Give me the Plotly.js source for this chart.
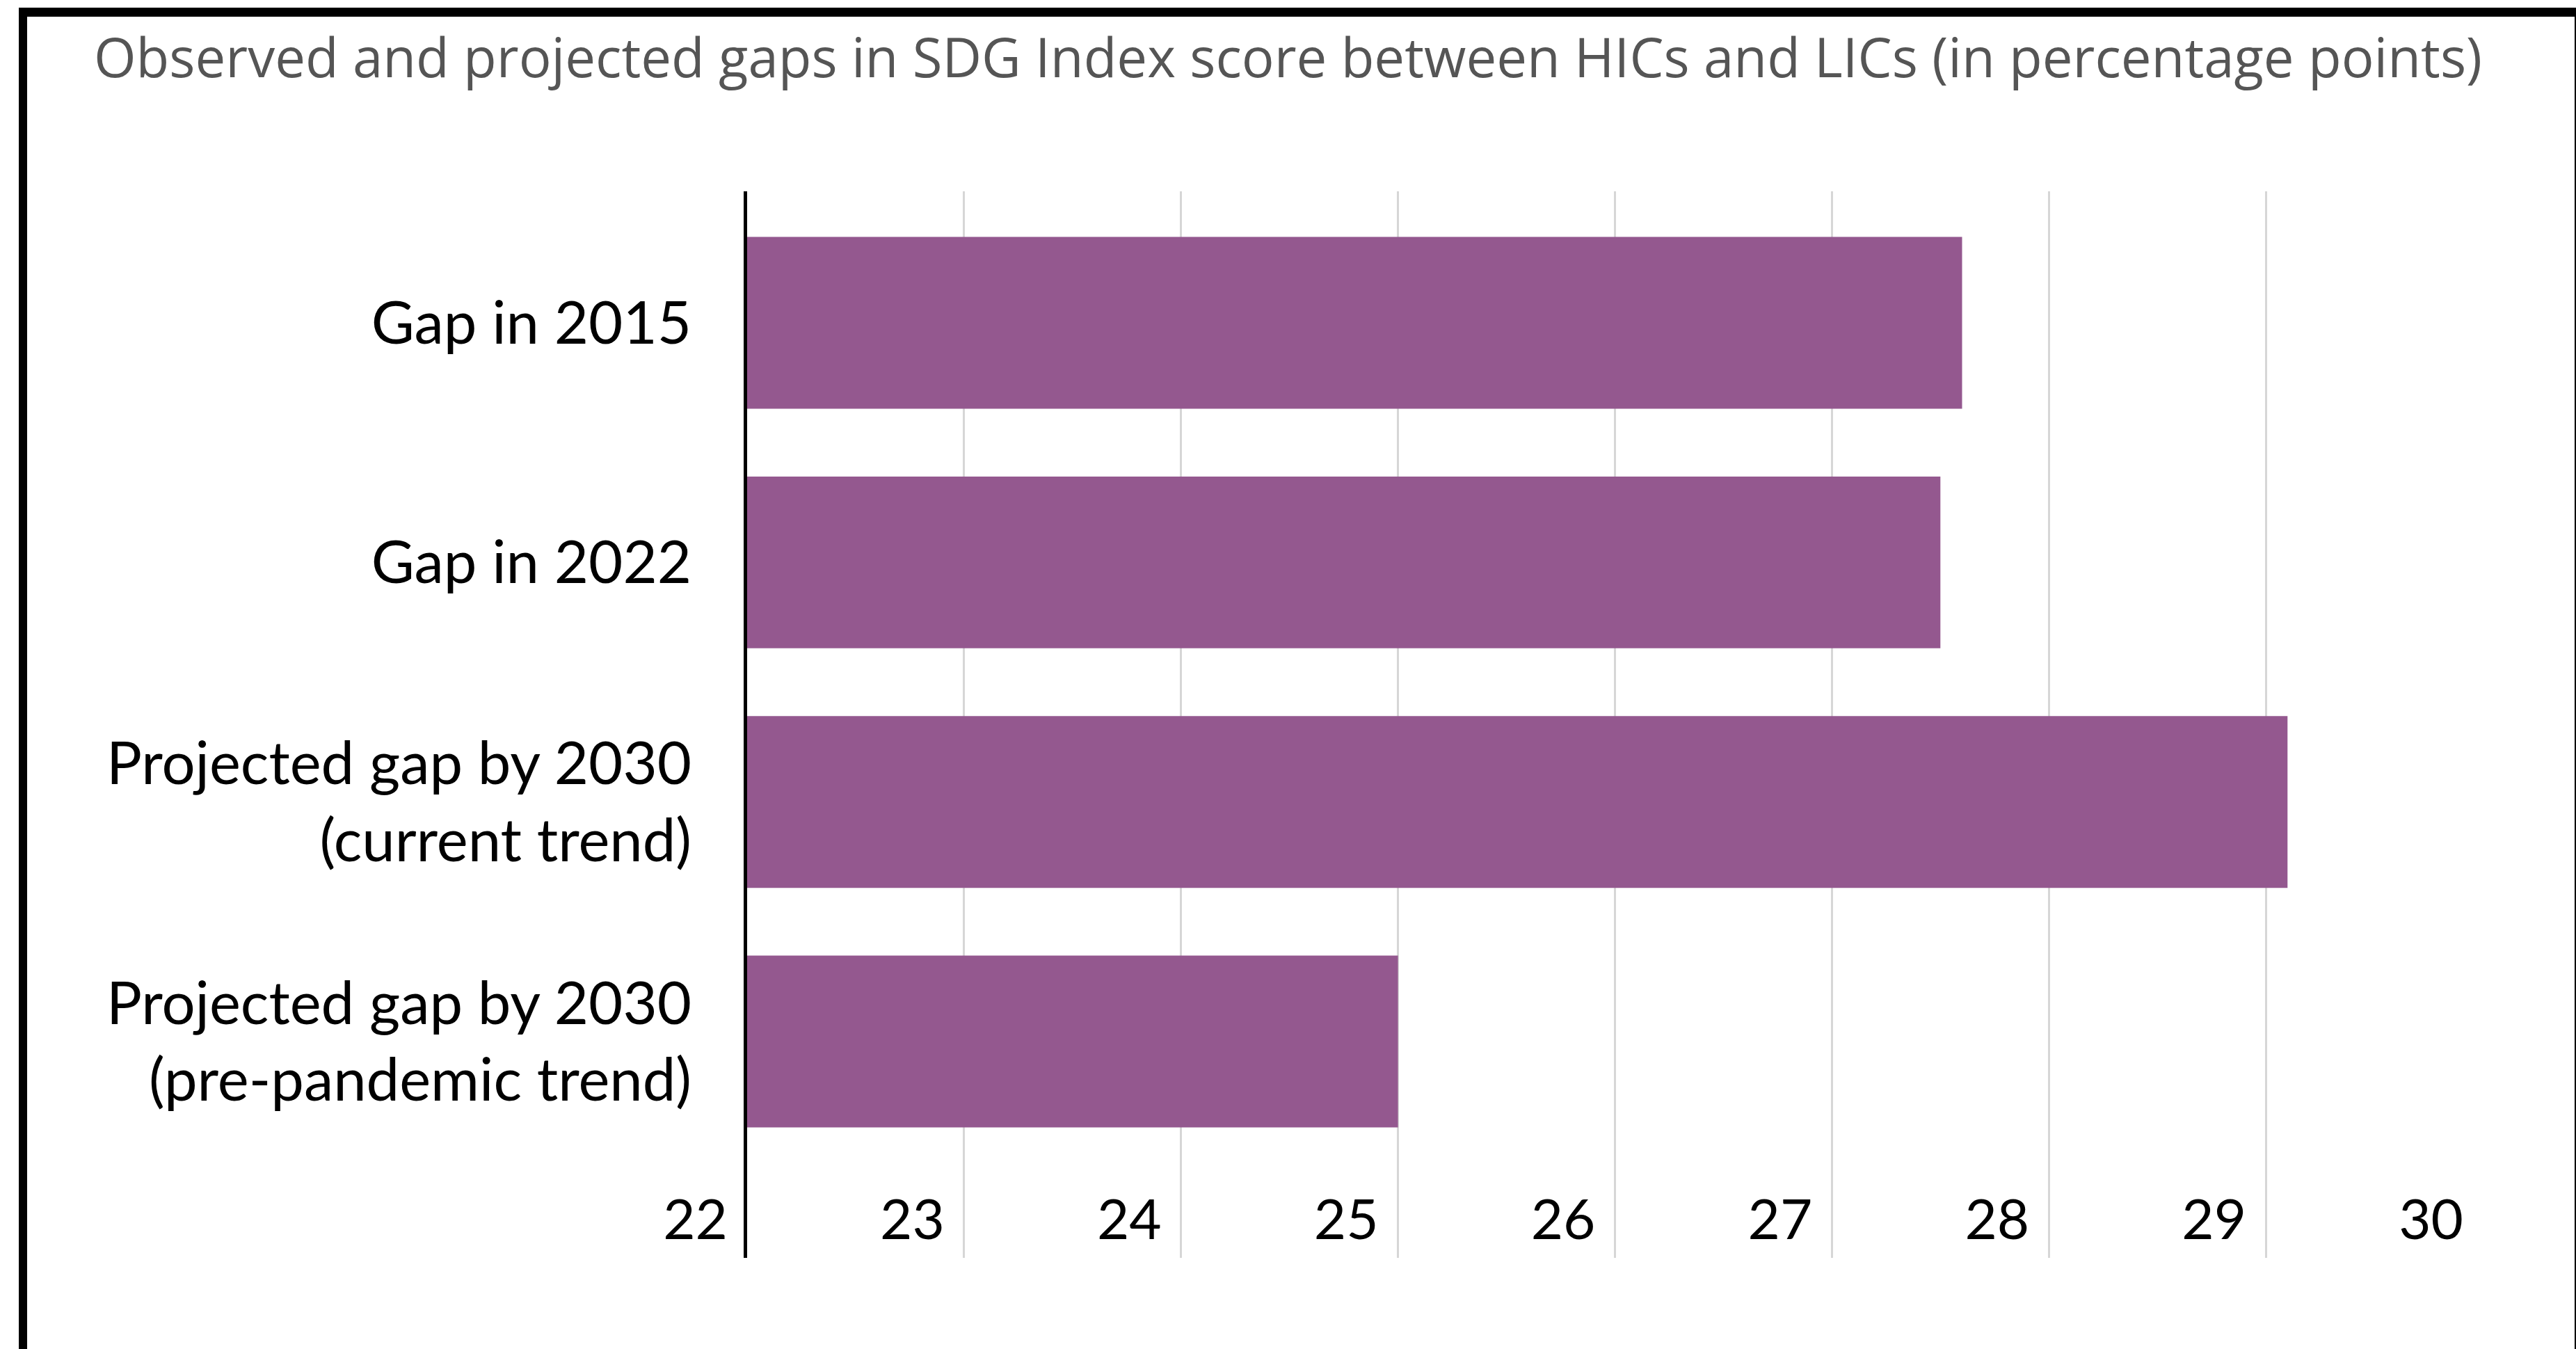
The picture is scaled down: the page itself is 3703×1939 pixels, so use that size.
<!DOCTYPE html>
<html>
<head>
<meta charset="utf-8">
<script src="https://cdn.plot.ly/plotly-3.0.1.min.js"></script>
<style>
  html, body { margin: 0; padding: 0; background: #fff; }
  /* cadre noir: haut et gauche épais, droite fin */
  #frame {
    position: absolute; left: 27px; top: 11px;
    width: 3676px; height: 1928px;
    box-sizing: border-box;
    border-top: 13px solid #000;
    border-left: 12px solid #000;
    border-right: 2px solid #000;
  }
  #chart { width: 3662px; height: 1915px; }
</style>
</head>
<body>
<div id="frame"><div id="chart"></div></div>
<script>
// Données
const categories = [
  'Gap in 2015',
  'Gap in 2022',
  'Projected gap by 2030<br>(current trend)',
  'Projected gap by 2030<br>(pre-pandemic trend)'
];
const gapValues = [27.6, 27.5, 29.1, 25.0];
const xTicks = [22, 23, 24, 25, 26, 27, 28, 29, 30];

const barColor = '#94588f';

const trace = {
  type: 'bar',
  orientation: 'h',
  y: categories,
  x: gapValues,
  marker: { color: barColor },
  hoverinfo: 'x'
};

const layout = {
  width: 3662,
  height: 1915,
  paper_bgcolor: '#fff',
  plot_bgcolor: '#fff',
  showlegend: false,
  bargap: 0.283,
  margin: { l: 1035, r: 132, t: 251, b: 131 },
  title: {
    text: 'Observed and projected gaps in SDG Index score between HICs and LICs (in percentage points)',
    font: { family: 'Open Sans, sans-serif', size: 78, color: '#555555' },
    xref: 'container', yref: 'container',
    x: 0.0262, xanchor: 'left',
    y: 0.969, yanchor: 'middle'
  },
  xaxis: {
    range: [22, 30],
    tickvals: xTicks,
    ticktext: xTicks.map(String),
    showgrid: true,
    gridcolor: '#d6d6d6',
    gridwidth: 3,
    zeroline: false,
    showline: false,
    ticks: '',
    ticklabelposition: 'inside left',
    ticklabeloverflow: 'allow',
    ticklabelstandoff: 5,
    ticklabelshift: -28,
    tickfont: { family: 'Lato, sans-serif', size: 80, color: '#000' }
  },
  yaxis: {
    type: 'category',
    categoryorder: 'array',
    categoryarray: categories,
    range: [3.903, -0.549],
    showgrid: false,
    zeroline: false,
    showline: true,
    linecolor: '#000',
    linewidth: 5,
    ticks: '',
    ticklabelstandoff: 58,
    tickfont: { family: 'Lato, sans-serif', size: 85, color: '#000' }
  }
};

Plotly.newPlot('chart', [trace], layout, { displayModeBar: false, staticPlot: true });
</script>
</body>
</html>
